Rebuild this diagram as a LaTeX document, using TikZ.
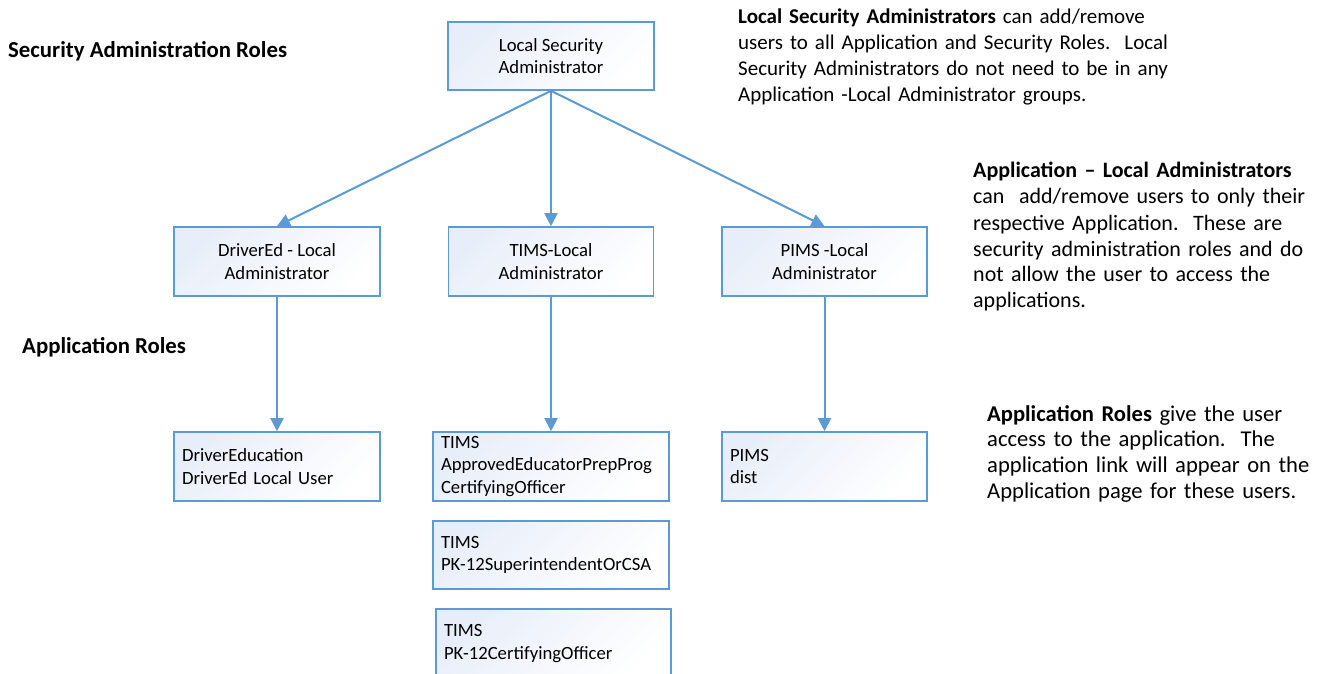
\documentclass[tikz,border=0pt]{standalone}
\usepackage{fontspec}
\setmainfont{Carlito}
\usetikzlibrary{arrows.meta}
\definecolor{boxblue}{RGB}{91,155,213}
\definecolor{fillblue}{RGB}{232,238,249}
\newcommand{\boxfont}{\fontsize{18.7}{22.5}\selectfont}
\newcommand{\parafont}{\fontsize{21}{26}\selectfont}
\frenchspacing
\begin{document}
\begin{tikzpicture}[x=1pt,y=-1pt,
  box/.style={draw=boxblue, line width=1.6pt, top color=fillblue, bottom color=white,
    shading angle=45, minimum width=206, minimum height=69, inner sep=0,
    font=\boxfont, align=center},
  leftbox/.style={box, inner xsep=8, align=left},
  conn/.style={draw=boxblue, line width=2pt, -{Triangle[length=13pt,width=13pt]}},
  para/.style={anchor=base west, inner sep=0, font=\parafont, align=left, text width=560},
  heading/.style={anchor=base west, inner sep=0, font=\fontsize{22.8}{26}\selectfont\bfseries}]
\clip (0,0) rectangle (1320,674);
\fill[white] (0,0) rectangle (1320,674);

% headings
\node[heading] (hsec) at (8,58) {Security Administration Roles};
\node[heading] (happ) at (22,353) {Application Roles};

% boxes
\node[box, minimum height=68] (root) at (551,56) {Local Security\\Administrator};
\node[box] (de) at (277,261.5) {DriverEd - Local\\Administrator};
\node[box, minimum width=205] (tl) at (551,261.5) {TIMS-Local\\Administrator};
\node[box, minimum width=205] (pl) at (824.5,261.5) {PIMS -Local\\Administrator};

\node[leftbox, text width=190] (deu) at (277,466.5) {DriverEducation\\DriverEd Local User};
\node[leftbox, text width=220, minimum width=236] (t1) at (551,466.5) {TIMS\\ApprovedEducatorPrepProg\\CertifyingOfficer};
\node[leftbox, text width=220, minimum width=236, minimum height=68] (t2) at (551,555) {TIMS\\PK-12SuperintendentOrCSA};
\node[leftbox, text width=219, minimum width=235] (t3) at (553.5,643.5) {TIMS\\PK-12CertifyingOfficer};
\node[leftbox, text width=189, minimum width=205] (pd) at (824.5,466.5) {PIMS\\dist};

% connectors
\draw[conn] (root.south) -- (de.north);
\draw[conn] (root.south) -- (tl.north);
\draw[conn] (root.south) -- (pl.north);
\draw[conn] (de.south) -- (deu.north);
\draw[conn] (tl.south) -- (t1.north);
\draw[conn] (pl.south) -- (pd.north);

% descriptions
\node[para] (p1) at (738,24) {\textbf{Local Security Administrators} can add/remove\\
users to all Application and Security Roles.~ Local\\
Security Administrators do not need to be in any\\
Application -Local Administrator groups.};
\node[para, font=\fontsize{22}{26}\selectfont] (p2) at (973,178) {\textbf{Application -- Local Administrators}\\
can~ add/remove users to only their\\
respective Application.~ These are\\
security administration roles and do\\
not allow the user to access the\\
applications.};
\node[para, font=\fontsize{22.6}{25.7}\selectfont] (p3) at (987,421) {\textbf{Application Roles} give the user\\
access to the application.~ The\\
application link will appear on the\\
Application page for these users.};
\end{tikzpicture}
\end{document}
